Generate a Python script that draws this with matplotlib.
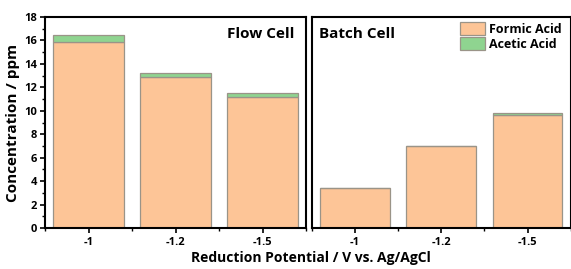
import matplotlib.pyplot as plt
from matplotlib.ticker import MultipleLocator

potentials = ['-1', '-1.2', '-1.5']
flow_formic = [15.9, 12.9, 11.2]
flow_acetic = [0.55, 0.35, 0.35]
batch_formic = [3.37, 6.98, 9.6]
batch_acetic = [0.0, 0.0, 0.25]

formic_color = '#fdc597'
acetic_color = '#8fd490'
edge_color = '#9a9488'

plt.rcParams['font.family'] = ['Open Sans', 'DejaVu Sans']
plt.rcParams['font.weight'] = 'bold'

fig = plt.figure(figsize=(5.71, 2.69), dpi=100)
ax1 = fig.add_axes([45 / 571, 41 / 269, 261 / 571, 211 / 269])
ax2 = fig.add_axes([311.7 / 571, 41 / 269, 259 / 571, 211 / 269])

xpos = [1, 2, 3]


def draw_panel(ax, formic, acetic):
    ax.bar(xpos, formic, width=0.81, color=formic_color, edgecolor=edge_color,
           linewidth=0.9, label='Formic Acid')
    ax.bar(xpos, acetic, width=0.81, bottom=formic, color=acetic_color,
           edgecolor=edge_color, linewidth=0.9, label='Acetic Acid')
    ax.set_xlim(0.5, 3.5)
    ax.set_ylim(0, 18)
    ax.set_xticks(xpos)
    ax.set_xticklabels(potentials, fontsize=8, fontweight='bold')
    ax.xaxis.set_minor_locator(MultipleLocator(0.5))
    ax.tick_params(axis='x', which='major', direction='out', length=3.5, width=1.2, pad=3)
    ax.tick_params(axis='x', which='minor', direction='out', length=2, width=1)
    for s in ax.spines.values():
        s.set_linewidth(1.5)


draw_panel(ax1, flow_formic, flow_acetic)
draw_panel(ax2, batch_formic, batch_acetic)

ax1.yaxis.set_major_locator(MultipleLocator(2))
ax1.yaxis.set_minor_locator(MultipleLocator(1))
ax1.tick_params(axis='y', which='major', direction='out', length=3.5, width=1.2, labelsize=8, pad=2)
ax1.tick_params(axis='y', which='minor', direction='out', length=2, width=1)
for lab in ax1.get_yticklabels():
    lab.set_fontweight('bold')
ax1.set_ylabel('Concentration / ppm', fontsize=11, fontweight='bold', labelpad=3)

ax2.set_yticks([])
ax2.tick_params(axis='y', which='both', left=False, labelleft=False)

ax1.text(0.955, 0.92, 'Flow Cell', transform=ax1.transAxes, ha='right', va='center',
         fontsize=11, fontweight='bold')
ax2.text(0.03, 0.92, 'Batch Cell', transform=ax2.transAxes, ha='left', va='center',
         fontsize=11, fontweight='bold')

ax2.legend(loc='upper right', bbox_to_anchor=(1.01, 1.03), frameon=False,
           handlelength=2.0, handleheight=1.2, handletextpad=0.35, labelspacing=0.15,
           prop={'weight': 'bold', 'size': 9})

fig.text(311 / 571, 11 / 269, 'Reduction Potential / V vs. Ag/AgCl', ha='center', va='center',
         fontsize=10, fontweight='bold')

fig.savefig('out.png', dpi=100)
